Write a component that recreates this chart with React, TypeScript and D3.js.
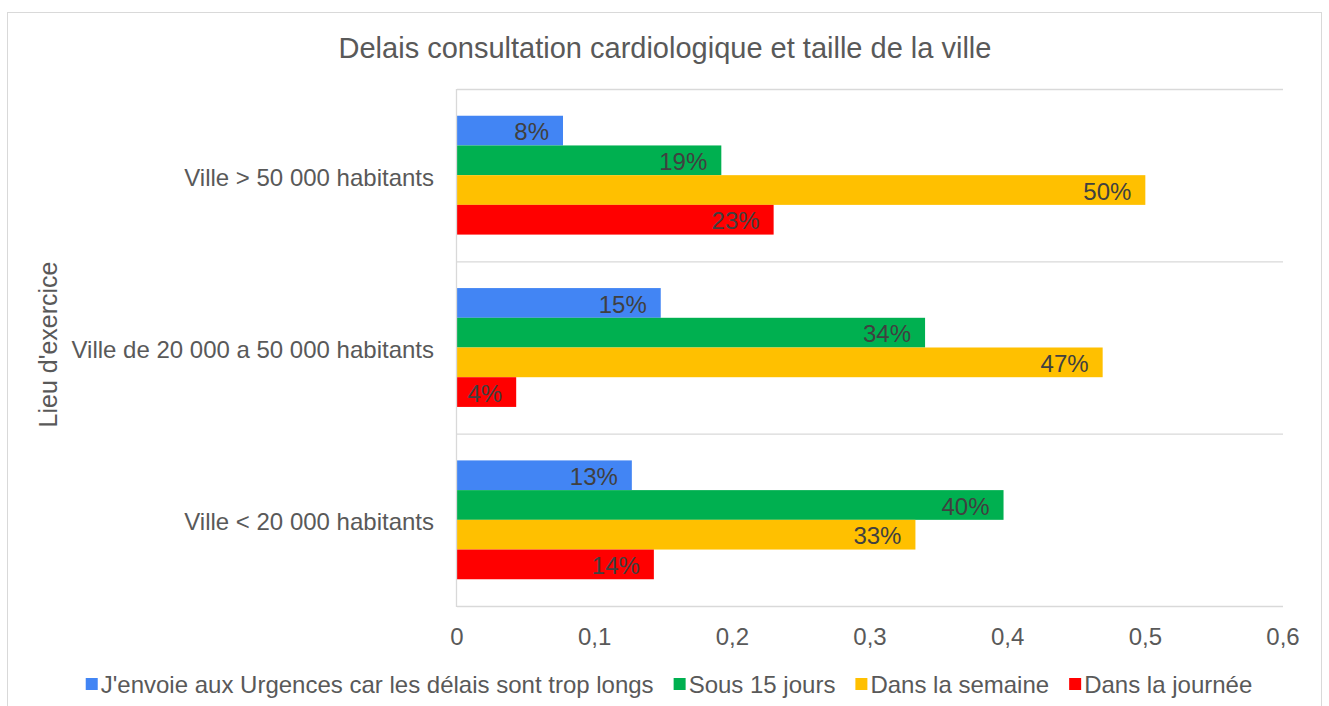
import React, { useEffect, useRef } from "react";
import * as d3 from "d3";

const title = "Delais consultation cardiologique et taille de la ville";
const yAxisTitle = "Lieu d'exercice";
const categories = [
  "Ville > 50 000 habitants",
  "Ville de 20 000 a 50 000 habitants",
  "Ville < 20 000 habitants",
];
const seriesNames = [
  "J'envoie aux Urgences car les délais sont trop longs",
  "Sous 15 jours",
  "Dans la semaine",
  "Dans la journée",
];
const seriesColors = ["#4285F4", "#00B050", "#FFC000", "#FF0000"];
const urgences = [0.077, 0.148, 0.127];
const sous15 = [0.192, 0.34, 0.397];
const semaine = [0.5, 0.469, 0.333];
const journee = [0.23, 0.043, 0.143];
const xTicks = [0, 0.1, 0.2, 0.3, 0.4, 0.5, 0.6];

const FONT = "'Liberation Sans', Arial, sans-serif";

export default function App() {
  const ref = useRef<SVGSVGElement | null>(null);

  useEffect(() => {
    const svg = d3.select(ref.current);
    svg.selectAll("*").remove();
    const left = 457, right = 1283, top = 89, bottom = 606;
    const series = [urgences, sous15, semaine, journee];

    svg.append("rect")
      .attr("x", 7.5).attr("y", 12.5).attr("width", 1314).attr("height", 720)
      .attr("fill", "#fff").attr("stroke", "#d9d9d9").attr("stroke-width", 1);

    const x = d3.scaleLinear().domain([0, 0.6]).range([left, right]);
    const y = d3.scaleBand<string>().domain(categories).range([top, bottom]).padding(0);
    const ys = d3.scaleBand<number>().domain([0, 1, 2, 3]).range([0, y.bandwidth()])
      .paddingInner(0).paddingOuter(0.9);

    // title
    svg.append("text").attr("x", 665).attr("y", 58).attr("text-anchor", "middle")
      .attr("font-family", FONT).attr("font-size", 29).attr("fill", "#595959").text(title);

    // gridlines at category boundaries
    const bounds = [top, ...categories.map((c) => (y(c) as number) + y.bandwidth())];
    svg.append("g").selectAll("line").data(bounds).join("line")
      .attr("x1", left).attr("x2", right)
      .attr("y1", (d) => d + 0.5).attr("y2", (d) => d + 0.5)
      .attr("stroke", "#d9d9d9").attr("stroke-width", 1.3);

    // bars
    const g = svg.append("g");
    series.forEach((vals, si) => {
      g.append("g").selectAll("rect").data(vals).join("rect")
        .attr("x", x(0))
        .attr("y", (_d, i) => (y(categories[i]) as number) + (ys(si) as number))
        .attr("width", (d) => x(d) - x(0))
        .attr("height", ys.bandwidth())
        .attr("fill", seriesColors[si]);
      g.append("g").selectAll("text").data(vals).join("text")
        .attr("x", (d) => x(d) - 14)
        .attr("y", (_d, i) => (y(categories[i]) as number) + (ys(si) as number) + ys.bandwidth() / 2 + 1)
        .attr("dy", "0.36em")
        .attr("text-anchor", "end")
        .attr("font-family", FONT).attr("font-size", 24).attr("fill", "#404040")
        .text((d) => d3.format(".0%")(d));
    });

    // y axis line
    svg.append("line").attr("x1", left - 0.5).attr("x2", left - 0.5)
      .attr("y1", top).attr("y2", bottom + 1)
      .attr("stroke", "#d9d9d9").attr("stroke-width", 1.3);

    // category labels
    svg.append("g").selectAll("text").data(categories).join("text")
      .attr("x", 434)
      .attr("y", (d) => (y(d) as number) + y.bandwidth() / 2 + 2)
      .attr("dy", "0.36em").attr("text-anchor", "end")
      .attr("font-family", FONT).attr("font-size", 24).attr("fill", "#595959")
      .text((d) => d);

    // y axis title
    svg.append("text")
      .attr("transform", `translate(57, ${(top + bottom) / 2 - 3}) rotate(-90)`)
      .attr("text-anchor", "middle")
      .attr("font-family", FONT).attr("font-size", 25).attr("fill", "#595959")
      .text(yAxisTitle);

    // x tick labels
    const fmt = (v: number) => d3.format(".1~f")(v).replace(".", ",");
    svg.append("g").selectAll("text").data(xTicks).join("text")
      .attr("x", (d) => x(d)).attr("y", 645).attr("text-anchor", "middle")
      .attr("font-family", FONT).attr("font-size", 24).attr("fill", "#595959")
      .text((d) => fmt(d));

    // legend
    const lg = svg.append("g");
    const items = lg.selectAll("g").data(seriesNames).join("g");
    items.append("rect").attr("width", 12).attr("height", 12).attr("y", -6)
      .attr("fill", (_d, i) => seriesColors[i]);
    items.append("text").attr("x", 15).attr("dy", "0.36em")
      .attr("font-family", FONT).attr("font-size", 24).attr("fill", "#595959")
      .text((d) => d);
    const widths: number[] = [];
    items.each(function () {
      const t = d3.select(this).select("text").node() as SVGTextElement;
      widths.push(15 + t.getComputedTextLength());
    });
    const gap = 20;
    const total = widths.reduce((a, b) => a + b, 0) + gap * (widths.length - 1);
    let cx = 669 - total / 2;
    items.each(function (_d, i) {
      d3.select(this).attr("transform", `translate(${cx}, 684)`);
      cx += widths[i] + gap;
    });
  }, []);

  return (
    <svg
      ref={ref}
      width={1329}
      height={706}
      style={{ position: "absolute", left: 0, top: 0, background: "#fff" }}
    />
  );
}
